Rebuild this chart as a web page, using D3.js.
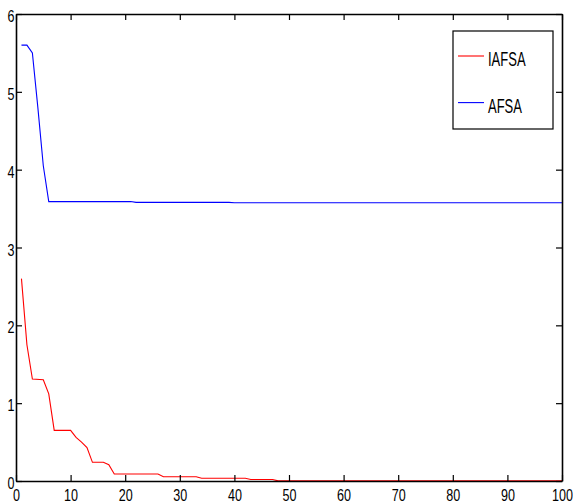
<!DOCTYPE html>
<html>
<head>
<meta charset="utf-8">
<script src="https://cdn.jsdelivr.net/npm/d3@7"></script>
<style>
  body { margin: 0; background: #fff; }
  text { font-family: "Liberation Sans", Arial, sans-serif; }
</style>
</head>
<body>
<div id="chart"></div>
<script>
// Data (iteration, best value), vertices of each curve
const iafsaX = [1, 2, 3, 5, 6, 7, 10, 11, 12, 13, 14, 16, 17, 18, 26, 27, 33, 34, 42, 43, 47, 48, 100];
const iafsaY = [2.6, 1.75, 1.31, 1.3, 1.12, 0.65, 0.65, 0.56, 0.5, 0.43, 0.24, 0.24, 0.21, 0.09, 0.09, 0.055, 0.055, 0.035, 0.035, 0.02, 0.02, 0.002, 0.002];

const afsaX = [1, 2, 3, 4, 5, 6, 21, 22, 39, 40, 100];
const afsaY = [5.6, 5.6, 5.5, 4.8, 4.05, 3.59, 3.59, 3.58, 3.58, 3.575, 3.575];

const xTicks = [0, 10, 20, 30, 40, 50, 60, 70, 80, 90, 100];
const yTicks = [0, 1, 2, 3, 4, 5, 6];

const seriesNames = ['IAFSA', 'AFSA'];
const seriesColors = ['#ff0000', '#0000ff'];

// Set up plot area
const svgWidth = 573;
const svgHeight = 504;
const plotLeft = 16;
const plotRight = 562;
const plotTop = 14;
const plotBottom = 481;

// narrow Helvetica look of the original
const tickSqueeze = 'scale(0.74,1)';
const legendSqueeze = 'scale(0.65,1)';

const svg = d3
  .select('#chart')
  .append('svg')
  .attr('width', svgWidth)
  .attr('height', svgHeight);

const x = d3.scaleLinear().domain([0, 100]).range([plotLeft, plotRight]);
const y = d3.scaleLinear().domain([0, 6]).range([plotBottom, plotTop]);

// Curves
const line = d3
  .line()
  .x((d) => x(d[0]))
  .y((d) => y(d[1]));

const series = [
  iafsaX.map((v, i) => [v, iafsaY[i]]),
  afsaX.map((v, i) => [v, afsaY[i]]),
];

svg
  .selectAll('.curve')
  .data(series)
  .enter()
  .append('path')
  .attr('class', 'curve')
  .attr('d', line)
  .attr('fill', 'none')
  .attr('stroke', (d, i) => seriesColors[i])
  .attr('stroke-width', 1.1);

// Axes, MATLAB style box with inward ticks on all four sides
const tickLen = 6;
const fmt = d3.format('d');

const xBottom = d3.axisBottom(x).tickValues(xTicks).tickFormat(fmt).tickSizeInner(-tickLen).tickSizeOuter(0).tickPadding(8);
const xTop = d3.axisTop(x).tickValues(xTicks).tickSizeInner(-tickLen).tickSizeOuter(0).tickFormat('');
const yLeft = d3.axisLeft(y).tickValues(yTicks).tickFormat(fmt).tickSizeInner(-tickLen).tickSizeOuter(0).tickPadding(2);
const yRight = d3.axisRight(y).tickValues(yTicks).tickSizeInner(-tickLen).tickSizeOuter(0).tickFormat('');

function styleAxis(g) {
  g.select('.domain').attr('stroke', '#000').attr('stroke-width', 1.6);
  g.selectAll('.tick line').attr('stroke', '#000').attr('stroke-width', 1.2);
  g.selectAll('.tick text')
    .attr('fill', '#000')
    .attr('transform', tickSqueeze)
    .style('font-size', '17px');
}

svg.append('g').attr('transform', 'translate(0,' + plotBottom + ')').call(xBottom).call(styleAxis);
svg.append('g').attr('transform', 'translate(0,' + plotTop + ')').call(xTop).call(styleAxis);
svg
  .append('g')
  .attr('transform', 'translate(' + plotLeft + ',0)')
  .call(yLeft)
  .call(styleAxis)
  .selectAll('.tick text')
  .attr('dy', '0.45em');
svg.append('g').attr('transform', 'translate(' + plotRight + ',0)').call(yRight).call(styleAxis);

// Legend
const legend = svg.append('g').attr('transform', 'translate(453,31)');

legend
  .append('rect')
  .attr('width', 100)
  .attr('height', 98)
  .attr('fill', '#fff')
  .attr('stroke', '#000')
  .attr('stroke-width', 1.2);

const items = legend
  .selectAll('.item')
  .data(seriesNames)
  .enter()
  .append('g')
  .attr('class', 'item')
  .attr('transform', (d, i) => 'translate(0,' + (25 + i * 46.6) + ')');

items
  .append('line')
  .attr('x1', 5)
  .attr('x2', 31)
  .attr('stroke', (d, i) => seriesColors[i])
  .attr('stroke-width', 1.1);

items
  .append('text')
  .attr('transform', 'translate(35,10) ' + legendSqueeze)
  .style('font-size', '20px')
  .attr('fill', '#000')
  .text((d) => d);
</script>
</body>
</html>
